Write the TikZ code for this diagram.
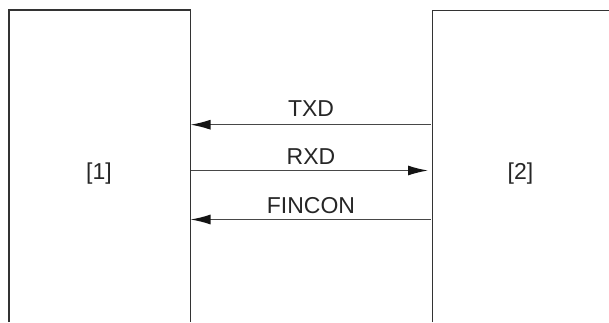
\documentclass[tikz,border=0pt]{standalone}
\usepackage{fontspec}
\setmainfont{Liberation Sans}
\usetikzlibrary{arrows.meta}
\begin{document}
\begin{tikzpicture}[x=1pt,y=-1pt,
  boxline/.style={draw=black!80, line width=1.3pt},
  sig/.style={draw=black!72, line width=1.3pt, -{Latex[length=20pt,width=10pt,color=black!92]}},
  lbl/.style={font=\fontsize{23}{27}\selectfont, text=black!85, inner sep=0pt, anchor=base},
  blk/.style={font=\fontsize{23}{27}\selectfont, text=black!85, inner sep=0pt}]
\useasboundingbox (0,0) rectangle (609,322);
% blocks (open at the bottom edge of the picture)
\draw[boxline] (9,322) |- (190.5,10) -- (190.5,322);
\draw[boxline] (432.3,322) |- (609,10.7);
\node[blk] (b1) at (99,174) {[1]};
\node[blk] (b2) at (520.5,174) {[2]};
% connector end points on the block edges
\coordinate (l1) at (190.5,124.7);
\coordinate (r1) at (430.5,124.7);
\coordinate (l2) at (190.5,170.5);
\coordinate (r2) at (428,170.5);
\coordinate (l3) at (190.5,219.5);
\coordinate (r3) at (430.5,219.5);
\draw[sig] (r1) -- (l1);
\draw[sig] (l2) -- (r2);
\draw[sig] (r3) -- (l3);
\node[lbl] (t1) at (311,116.5) {TXD};
\node[lbl] (t2) at (311,164.5) {RXD};
\node[lbl] (t3) at (311,213) {FINCON};
\end{tikzpicture}
\end{document}
